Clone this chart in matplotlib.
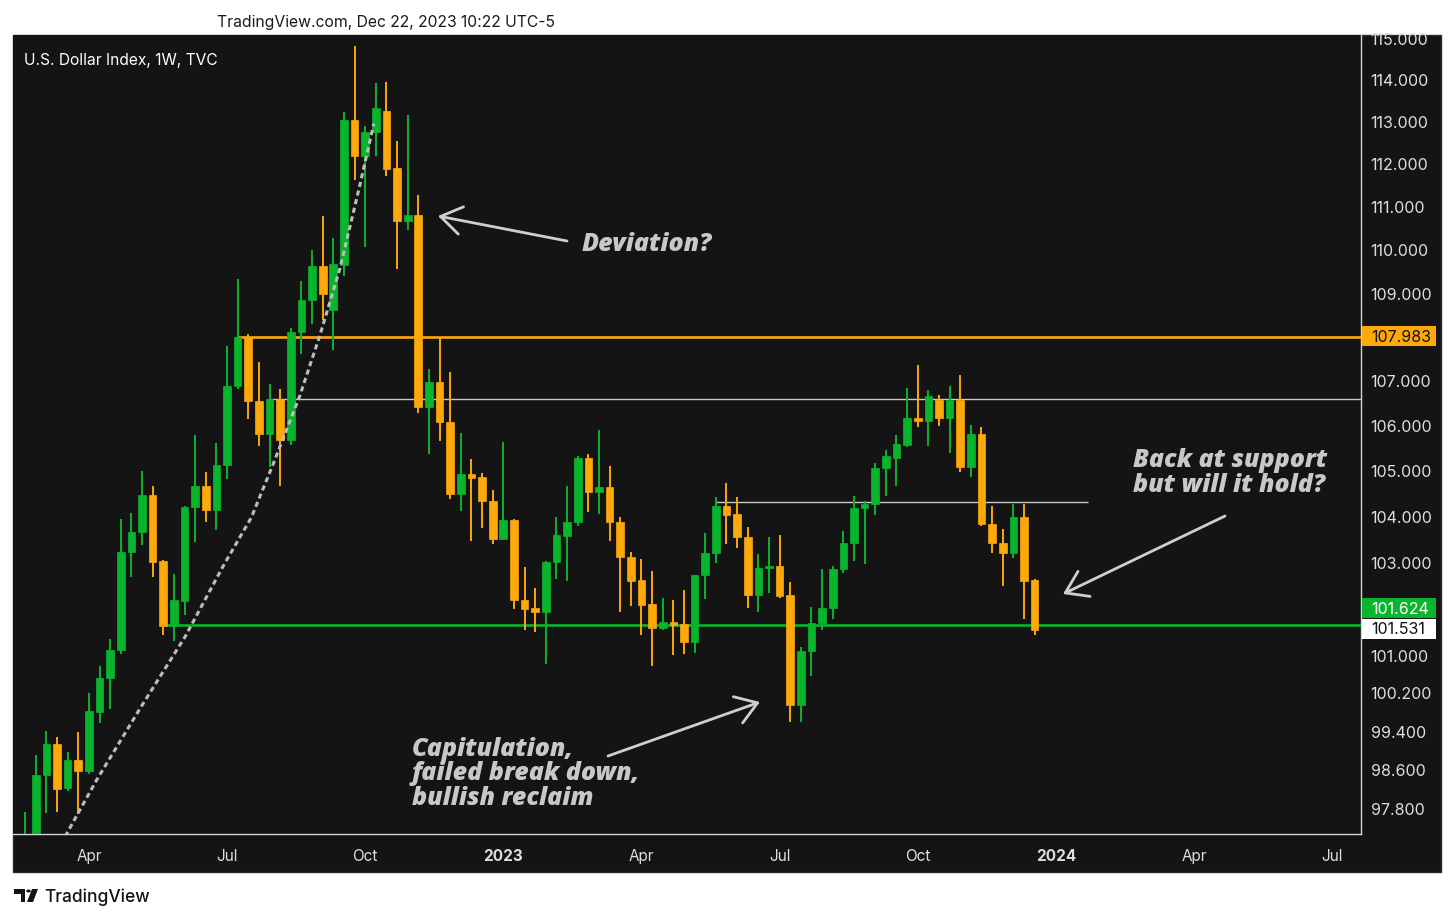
import numpy as np
import pandas as pd
import matplotlib
matplotlib.use("Agg")
import matplotlib.pyplot as plt
from matplotlib.patches import Rectangle, FancyArrowPatch, Circle, Polygon
from matplotlib.ticker import NullLocator, NullFormatter

# ---- weekly OHLC, U.S. Dollar Index (TVC) ----
first_week = "2022-02-21"
opens = [96.10, 96.60, 98.48, 99.11, 98.21, 98.79, 98.55, 99.80, 100.50, 101.09,
         103.20, 103.65, 104.45, 103.02, 101.62, 102.14, 104.18, 104.65, 104.12, 105.11,
         106.88, 107.99, 106.54, 105.80, 106.58, 105.67, 108.10, 108.83, 109.60, 108.60,
         109.63, 113.03, 112.17, 112.75, 113.24, 111.89, 110.66, 110.79, 106.41, 106.97,
         106.06, 104.48, 104.91, 104.84, 104.32, 103.48, 103.90, 102.17, 101.99, 101.91,
         102.99, 103.56, 103.86, 105.26, 104.52, 104.62, 103.85, 103.10, 102.59, 102.09,
         101.57, 101.70, 101.66, 101.27, 102.70, 103.18, 104.21, 104.03, 103.54, 102.27,
         102.85, 102.91, 102.27, 99.93, 101.07, 101.68, 101.99, 102.84, 103.41, 104.17,
         104.26, 105.04, 105.27, 105.56, 106.17, 106.09, 106.56, 106.15, 106.56, 105.06,
         105.80, 103.81, 103.41, 103.19, 103.97, 102.59]
highs = [97.72, 98.90, 99.40, 99.27, 98.96, 99.36, 100.18, 100.75, 101.33, 103.92,
         104.05, 104.99, 104.65, 103.04, 102.72, 104.20, 105.79, 104.95, 105.61, 107.78,
         109.31, 108.05, 107.42, 106.93, 106.80, 108.20, 109.27, 109.98, 110.78, 110.25,
         113.23, 114.80, 112.88, 113.92, 113.94, 112.54, 113.15, 111.27, 107.27, 107.96,
         107.19, 105.82, 105.24, 104.93, 104.56, 105.62, 103.93, 102.89, 102.42, 103.01,
         103.96, 104.65, 105.31, 105.36, 105.89, 105.09, 103.96, 103.21, 103.05, 102.80,
         102.22, 102.16, 102.39, 102.70, 103.61, 104.41, 104.71, 104.40, 103.75, 103.16,
         103.53, 103.57, 102.55, 101.17, 102.02, 102.83, 102.90, 103.67, 104.43, 104.33,
         105.15, 105.44, 105.78, 106.84, 107.36, 106.78, 106.67, 106.88, 107.12, 106.00,
         105.95, 104.21, 103.71, 104.26, 104.26, 102.63]
lows = [95.90, 96.50, 97.70, 97.72, 98.15, 97.66, 98.50, 99.55, 99.85, 101.02,
        102.66, 103.35, 102.66, 101.41, 101.30, 101.84, 103.42, 103.85, 103.68, 104.80,
        106.80, 106.13, 105.54, 105.06, 104.64, 105.56, 107.60, 108.28, 108.37, 107.70,
        109.37, 111.60, 110.06, 112.17, 111.71, 109.54, 110.44, 106.28, 105.35, 105.64,
        104.37, 104.10, 103.45, 103.74, 103.37, 103.47, 101.97, 101.52, 101.49, 100.81,
        102.63, 102.58, 103.77, 104.09, 104.03, 103.45, 101.91, 102.04, 101.41, 100.77,
        101.52, 100.99, 101.02, 101.04, 102.20, 102.97, 103.37, 103.30, 102.00, 101.92,
        102.31, 102.22, 99.57, 99.57, 100.55, 101.52, 101.77, 102.76, 103.01, 102.95,
        104.01, 104.42, 104.65, 105.52, 105.96, 105.54, 105.97, 105.37, 104.95, 104.85,
        103.78, 103.19, 102.47, 103.07, 101.77, 101.41]
closes = [96.60, 98.48, 99.11, 98.19, 98.79, 98.55, 99.82, 100.50, 101.11, 103.20,
          103.65, 104.45, 103.00, 101.62, 102.16, 104.18, 104.65, 104.12, 105.11, 106.88,
          107.99, 106.54, 105.80, 106.58, 105.67, 108.10, 108.83, 109.60, 108.96, 109.66,
          113.03, 112.17, 112.75, 113.31, 111.87, 110.66, 110.79, 106.41, 106.97, 106.06,
          104.48, 104.91, 104.82, 104.31, 103.48, 103.90, 102.17, 101.97, 101.91, 102.99,
          103.57, 103.87, 105.26, 104.52, 104.62, 103.85, 103.10, 102.57, 102.07, 101.57,
          101.70, 101.64, 101.27, 102.70, 103.18, 104.21, 104.01, 103.54, 102.27, 102.85,
          102.91, 102.25, 99.93, 101.07, 101.68, 101.99, 102.84, 103.41, 104.17, 104.26,
          105.04, 105.32, 105.58, 106.17, 106.09, 106.65, 106.15, 106.56, 105.06, 105.80,
          103.81, 103.41, 103.19, 103.97, 102.57, 101.531]

# horizontal levels drawn on the chart
levels = [107.983, 106.58, 104.29, 101.624]
level_from = ["2022-07-11", "2022-08-01", "2023-05-22", "2022-05-25"]
level_to = ["2024-07-20", "2024-07-20", "2024-01-22", "2024-07-20"]

# dashed curved trendline (weeks after first bar, price)
curve_weeks = [3.77, 4.86, 6.75, 10.83, 15.07, 18.68, 21.29, 23.33, 25.84, 27.72,
               29.61, 31.49, 32.81]
curve_prices = [97.21, 97.64, 98.38, 99.87, 101.39, 102.92, 103.96, 105.13, 106.65,
                108.01, 109.54, 111.48, 112.94]

price_ticks = [115, 114, 113, 112, 111, 110, 109, 107, 106, 105, 104, 103,
               101, 100.2, 99.4, 98.6, 97.8]
time_ticks = ["2022-04-04", "2022-07-04", "2022-10-03", "2023-01-02", "2023-04-03",
              "2023-07-03", "2023-10-02", "2024-01-01", "2024-04-01", "2024-07-01"]
time_labels = ["Apr", "Jul", "Oct", "2023", "Apr", "Jul", "Oct", "2024", "Apr", "Jul"]
view_from, view_to = "2022-02-13", "2024-07-20"
price_lo, price_hi = 97.26, 115.07

BG = "#141414"
UP = "#0ab52e"
DOWN = "#ffa80a"
GREY = "#c9c9c9"
TXT = "#dedede"

plt.rcParams["font.family"] = ["Inter", "DejaVu Sans"]

W, H = 1456, 920
t0 = pd.Timestamp(first_week)


def wk(d):
    return (pd.Timestamp(d) - t0).days / 7.0


def fx(px):
    return px / W


def fy(py):
    return 1 - py / H


fig = plt.figure(figsize=(W / 100, H / 100), dpi=100)
fig.patch.set_facecolor("white")

# dark panel behind chart, price scale and time scale
fig.patches.append(Rectangle((fx(13), fy(873)), fx(1441) - fx(13), fy(36) - fy(873),
                             transform=fig.transFigure, facecolor=BG,
                             edgecolor="#2c2c2c", lw=1, zorder=-5))

ax = fig.add_axes([fx(13), fy(835), fx(1361) - fx(13), fy(36) - fy(835)])
ax.set_zorder(1)
ax.set_facecolor(BG)
ax.set_yscale("log")
ax.set_xlim(wk(view_from), wk(view_to))
ax.set_ylim(price_lo, price_hi)

o = np.array(opens)
h = np.array(highs)
l = np.array(lows)
c = np.array(closes)
x = np.arange(len(c), dtype=float)
cols = np.where(c >= o, UP, DOWN)

ax.vlines(x, l, h, colors=cols, lw=1.4, zorder=4)
lo_b = np.minimum(o, c)
hi_b = np.maximum(o, c)
ax.bar(x, np.maximum(hi_b - lo_b, 0.05), bottom=lo_b, width=0.72, color=cols,
       edgecolor=cols, lw=0.5, zorder=5)

# levels
lvl_cols = [DOWN, GREY, GREY, UP]
lvl_lw = [1.9, 1.0, 1.0, 1.9]
for p, a, b, col, lw in zip(levels, level_from, level_to, lvl_cols, lvl_lw):
    ax.hlines(p, wk(a), wk(b), colors=col, lw=lw, zorder=3)

ax.plot(curve_weeks, curve_prices, color="#bdbdbd", lw=2.2, ls=(0, (1.7, 1.2)), zorder=6)

# axes styling
for s in ["top", "left"]:
    ax.spines[s].set_visible(False)
for s in ["bottom", "right"]:
    ax.spines[s].set_color("#d4d4d4")
    ax.spines[s].set_linewidth(1.0)

ax.yaxis.tick_right()
ax.yaxis.set_minor_locator(NullLocator())
ax.yaxis.set_minor_formatter(NullFormatter())
ax.set_yticks(price_ticks)
ax.set_yticklabels([f"{t:.3f}" for t in price_ticks])
ax.tick_params(axis="y", length=0, pad=7, labelsize=11.5, labelcolor=TXT)

ax.set_xticks([wk(d) for d in time_ticks])
ax.set_xticklabels(time_labels)
ax.tick_params(axis="x", length=0, pad=10, labelsize=11, labelcolor=TXT)
for lab in ax.get_xticklabels():
    if lab.get_text().isdigit():
        lab.set_fontweight("bold")

# price scale badges
badges = [("107.983", 337, DOWN, "#111111"),
          ("101.624", 609, UP, "white"),
          ("101.531", 630, "white", "#111111")]
for txt, py, fc, tc in badges:
    fig.patches.append(Rectangle((fx(1362), fy(py + 10)), fx(1436) - fx(1362), fy(py - 10) - fy(py + 10),
                                 transform=fig.transFigure, facecolor=fc, edgecolor="none", zorder=5))
    fig.text(fx(1371), fy(py), txt, color=tc, fontsize=11.5, ha="left", va="center", zorder=6)

# header / footer
fig.text(fx(217), fy(23), "TradingView.com, Dec 22, 2023 10:22 UTC-5", fontsize=11.3,
         color="#1a1a1a", ha="left", va="center")
fig.text(fx(24), fy(60), "U.S. Dollar Index, 1W, TVC", fontsize=11.2, color="white",
         ha="left", va="center", zorder=6)
fig.text(fx(44), fy(897), "TradingView", fontsize=12.5, color="#131313", ha="left",
         va="center", fontweight="medium")
fig.patches.append(Polygon([(fx(14), fy(890)), (fx(25), fy(890)), (fx(25), fy(903)),
                            (fx(20.5), fy(903)), (fx(20.5), fy(894.5)), (fx(14), fy(894.5))],
                           closed=True, transform=fig.transFigure, facecolor="#131313"))
fig.patches.append(Circle((fx(28.5), fy(892)), 2.3 / W, transform=fig.transFigure,
                          facecolor="#131313"))
fig.patches.append(Polygon([(fx(32), fy(890)), (fx(38), fy(890)), (fx(33), fy(903)), (fx(27), fy(903))],
                           closed=True, transform=fig.transFigure, facecolor="#131313"))

# annotations
note_kw = dict(fontsize=18, color="#c8c8c8", fontweight="heavy", style="italic",
               family=["Open Sans", "Roboto", "DejaVu Sans"], ha="left", va="center",
               linespacing=0.98, zorder=8)
fig.text(fx(582), fy(245), "Deviation?", **note_kw)
fig.text(fx(1133), fy(473), "Back at support\nbut will it hold?", **note_kw)
fig.text(fx(412), fy(774), "Capitulation,\nfailed break down,\nbullish reclaim", **note_kw)

arrows = [((567, 242), (438, 217)),
          ((1225, 517), (1063, 595)),
          ((608, 757), (760, 703))]
for (x0, y0), (x1, y1) in arrows:
    fig.patches.append(FancyArrowPatch((fx(x0), fy(y0)), (fx(x1), fy(y1)),
                                       transform=fig.transFigure,
                                       arrowstyle="->,head_length=0.75,head_width=0.5",
                                       mutation_scale=20, color="#cfcfcf", lw=2.0,
                                       shrinkA=0, shrinkB=0, zorder=8))

fig.savefig("out.png", dpi=100, facecolor=fig.get_facecolor())
